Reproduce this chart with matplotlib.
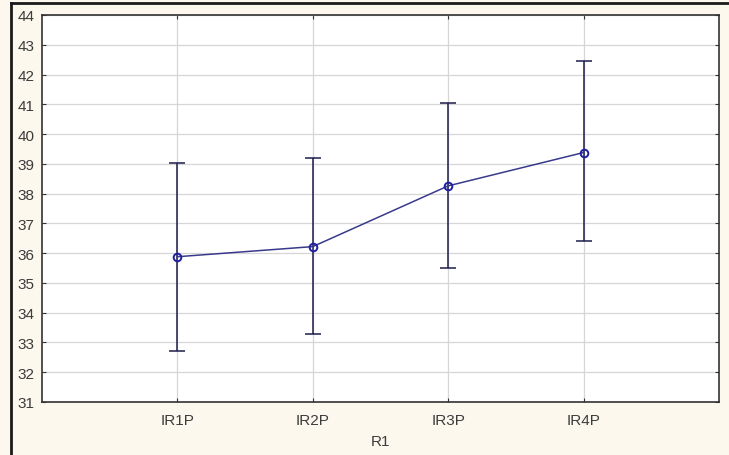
import matplotlib
matplotlib.use("Agg")
import matplotlib.pyplot as plt
from matplotlib.lines import Line2D

plt.rcParams['font.family'] = ['Liberation Sans', 'DejaVu Sans']

groups = ["IR1P", "IR2P", "IR3P", "IR4P"]
means = [35.88, 36.22, 38.26, 39.38]
upper = [39.04, 39.19, 41.06, 42.46]
lower = [32.71, 33.27, 35.50, 36.40]

W, H = 729, 456
fig = plt.figure(figsize=(W / 100, H / 100), dpi=100)
fig.patch.set_facecolor("#fcf8ee")

# outer frame, only left and top edges fall inside the image
fig.add_artist(Line2D([10.5 / W, 10.5 / W], [0, 1 - 4 / H], transform=fig.transFigure,
                      color="#1a1a1a", lw=2))
fig.add_artist(Line2D([10.5 / W, 1], [1 - 4 / H, 1 - 4 / H], transform=fig.transFigure,
                      color="#1a1a1a", lw=2))

left, right, top, bottom = 42, 719, 16, 403
ax = fig.add_axes([left / W, 1 - bottom / H, (right - left) / W, (bottom - top) / H])
ax.set_facecolor("white")

xs = list(range(1, len(groups) + 1))
yerr = [[m - lo for m, lo in zip(means, lower)], [hi - m for m, hi in zip(means, upper)]]
ax.errorbar(xs, means, yerr=yerr, fmt="none", ecolor="#1c1c4c", elinewidth=1.1,
            capsize=5.8, capthick=1.1, zorder=3)
ax.plot(xs, means, color="#3a3a8c", lw=1.1, marker="o", markersize=5.5,
        markerfacecolor="none", markeredgecolor="#1f1fa0", markeredgewidth=1.4, zorder=4)

ax.set_xlim(0, 5)
ax.set_ylim(31, 44)
ax.set_xticks(xs)
ax.set_xticklabels(groups)
ax.set_yticks(range(31, 45))
ax.grid(True, color="#d6d6d6", lw=0.9)
ax.set_axisbelow(True)
ax.tick_params(direction="in", length=3, width=0.8, top=True, right=True,
               labelsize=11, colors="#333333", labelcolor="#3c3c3c", pad=8)
ax.tick_params(axis="y", pad=5.5)
for sp in ax.spines.values():
    sp.set_color("#333333")
    sp.set_linewidth(1.2)

ax.set_xlabel("R1", fontsize=11, color="#3c3c3c", labelpad=5)

fig.savefig("out.png", dpi=100, facecolor=fig.get_facecolor())
